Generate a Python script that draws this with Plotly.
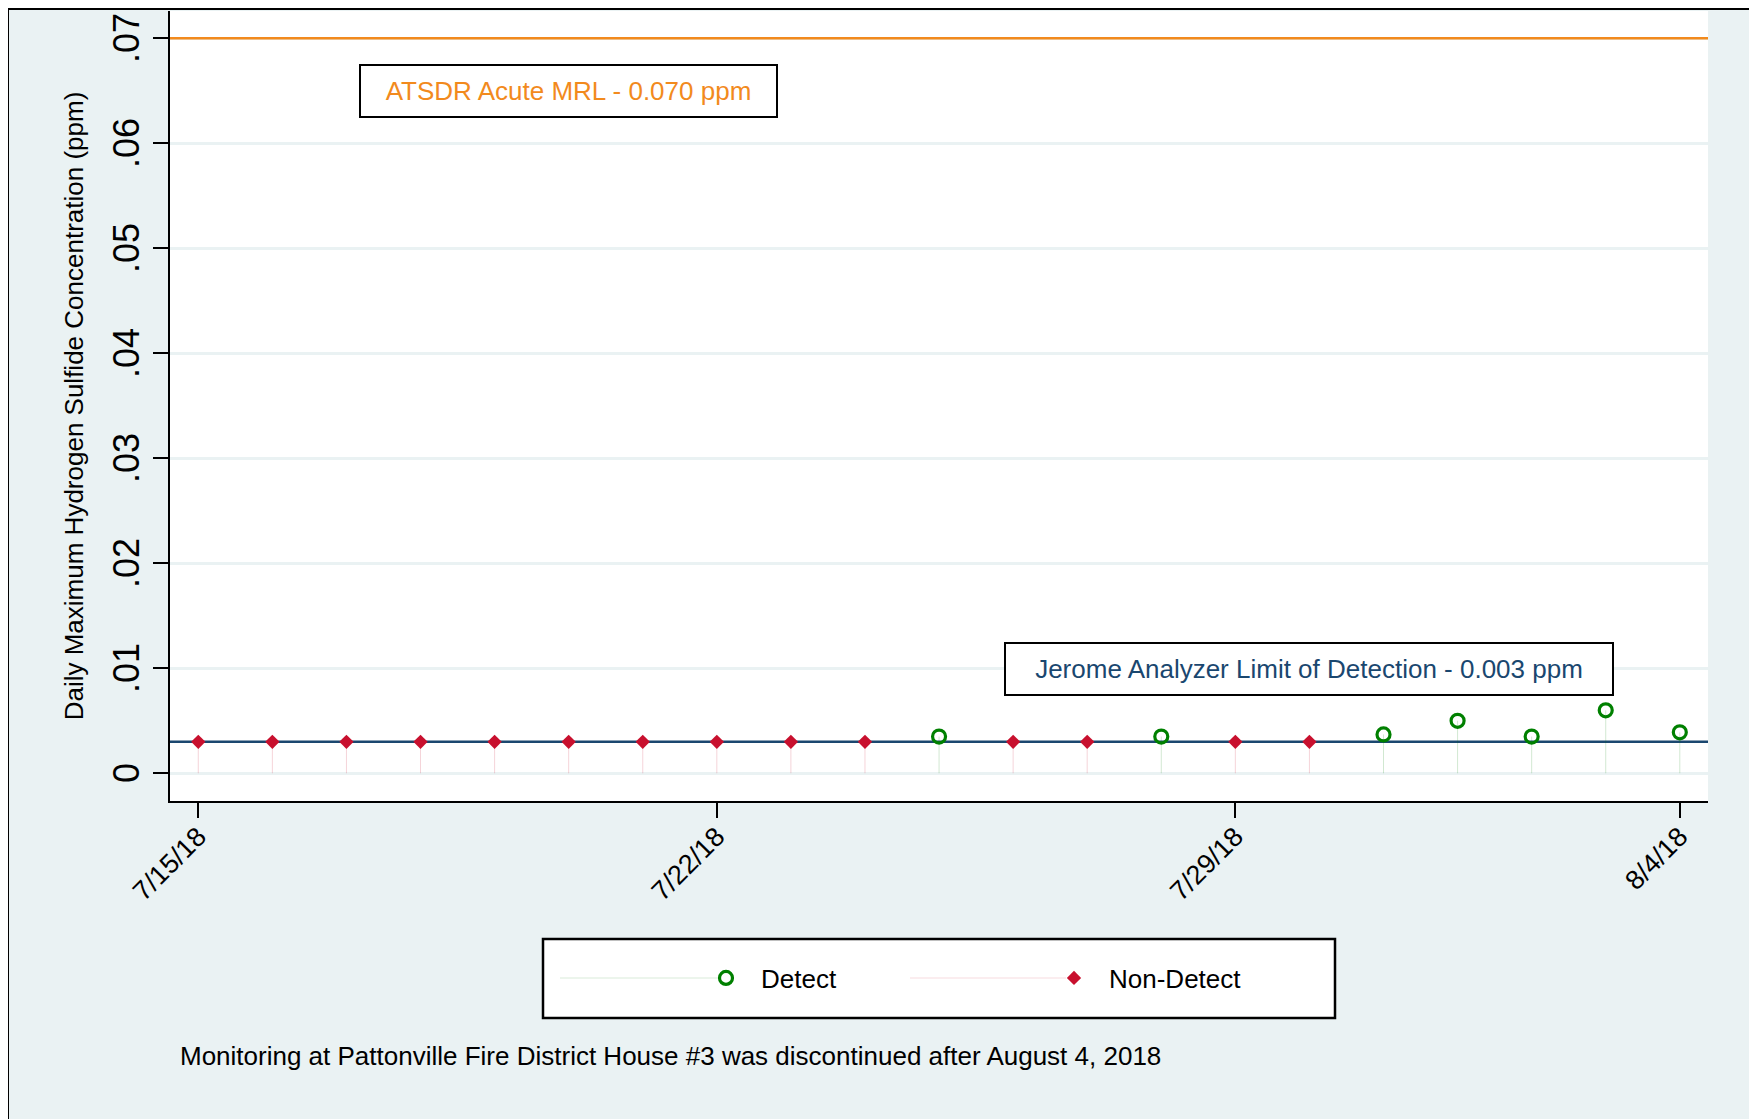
import plotly.graph_objects as go

# ---------------- data ----------------
dates = ['2018-07-15', '2018-07-16', '2018-07-17', '2018-07-18', '2018-07-19',
         '2018-07-20', '2018-07-21', '2018-07-22', '2018-07-23', '2018-07-24',
         '2018-07-25', '2018-07-26', '2018-07-27', '2018-07-28', '2018-07-29',
         '2018-07-30', '2018-07-31', '2018-08-01', '2018-08-02', '2018-08-03',
         '2018-08-04']
h2s_ppm = [0.003, 0.003, 0.003, 0.003, 0.003,
           0.003, 0.003, 0.003, 0.003, 0.003,
           0.0035, 0.003, 0.003, 0.0035, 0.003,
           0.003, 0.0037, 0.005, 0.0035, 0.006,
           0.0039]
status = ['Non-Detect'] * 10 + ['Detect', 'Non-Detect', 'Non-Detect', 'Detect',
                                'Non-Detect', 'Non-Detect', 'Detect', 'Detect',
                                'Detect', 'Detect', 'Detect']

mrl_value = 0.070
lod_value = 0.003
mrl_label = 'ATSDR Acute MRL - 0.070 ppm'
lod_label = 'Jerome Analyzer Limit of Detection - 0.003 ppm'
note_text = 'Monitoring at Pattonville Fire District House #3 was discontinued after August 4, 2018'
y_title = 'Daily Maximum Hydrogen Sulfide Concentration (ppm)'
x_tickvals = ['2018-07-15', '2018-07-22', '2018-07-29', '2018-08-04']
x_ticktext = ['7/15/18', '7/22/18', '7/29/18', '8/4/18']
y_tickvals = [0, 0.01, 0.02, 0.03, 0.04, 0.05, 0.06, 0.07]
y_ticktext = ['0', '.01', '.02', '.03', '.04', '.05', '.06', '.07']
x_range = ['2018-07-14 14:50', '2018-08-04 09:08']

# ---------------- styles ----------------
FONT = 'Liberation Sans, Arial, sans-serif'
GREEN = '#008000'
RED = '#C8102E'
ORANGE = '#F28A1D'
NAVY = '#1A476F'
REGION = '#EAF2F3'

OFF = 8  # page body margin
W, H = 1757 - OFF, 1119 - OFF
L, T = 170 - OFF, 11 - OFF
PR, PB = 1708 - OFF, 801 - OFF
R, B = W - PR, H - PB
PW, PH = PR - L, PB - T


def px_x(p):
    return (p - OFF - L) / PW


def px_y(p):
    return (PB - (p - OFF)) / PH


fig = go.Figure()

# reference lines
for val, col, wid in [(mrl_value, ORANGE, 2.5), (lod_value, NAVY, 2.5)]:
    fig.add_trace(go.Scatter(x=x_range, y=[val, val], mode='lines',
                             line=dict(color=col, width=wid), showlegend=False,
                             hoverinfo='skip'))

for name, color, sym, size, lw, stem in [
        ('Detect', GREEN, 'circle-open', 13, 3.2, 'rgba(0,128,0,0.18)'),
        ('Non-Detect', RED, 'diamond', 11, 0, 'rgba(200,16,46,0.18)')]:
    xs = [d for d, s in zip(dates, status) if s == name]
    ys = [v for v, s in zip(h2s_ppm, status) if s == name]
    fig.add_trace(go.Scatter(
        x=xs, y=ys, mode='markers', name=name,
        marker=dict(symbol=sym, size=size, color=color,
                    line=dict(color=color, width=lw)),
        error_y=dict(type='data', symmetric=False, array=[0] * len(ys),
                     arrayminus=ys, color=stem, thickness=1, width=0),
    ))

shapes = [
    # graph region (light) with outer frame (bottom edge runs off the page)
    dict(type='rect', xref='paper', yref='paper', layer='below',
         x0=px_x(8), x1=px_x(1752), y0=px_y(1135), y1=px_y(9),
         fillcolor=REGION, line=dict(color='black', width=2)),
    # plot region (white)
    dict(type='rect', xref='paper', yref='paper', layer='below',
         x0=0, x1=1, y0=0, y1=1, fillcolor='white', line=dict(width=0)),
    # legend frame
    dict(type='rect', xref='paper', yref='paper', layer='above',
         x0=px_x(543), x1=px_x(1335), y0=px_y(1018), y1=px_y(939),
         fillcolor='white', line=dict(color='black', width=2.5)),
    # faint legend key lines
    dict(type='line', xref='paper', yref='paper', layer='above',
         x0=px_x(560), x1=px_x(718), y0=px_y(978), y1=px_y(978),
         line=dict(color='rgba(0,128,0,0.15)', width=1)),
    dict(type='line', xref='paper', yref='paper', layer='above',
         x0=px_x(910), x1=px_x(1066), y0=px_y(978), y1=px_y(978),
         line=dict(color='rgba(200,16,46,0.15)', width=1)),
]

annotations = [
    dict(x='2018-07-20', y=0.065, xref='x', yref='y', text=mrl_label,
         showarrow=False, font=dict(family=FONT, size=26, color=ORANGE),
         bgcolor='white', bordercolor='black', borderwidth=2, borderpad=0,
         width=415, height=50),
    dict(x='2018-07-30', y=0.00995, xref='x', yref='y', text=lod_label,
         showarrow=False, font=dict(family=FONT, size=26, color=NAVY),
         bgcolor='white', bordercolor='black', borderwidth=2, borderpad=0,
         width=606, height=50),
    dict(x=px_x(178), y=px_y(1056), xref='paper', yref='paper', text=note_text,
         showarrow=False, xanchor='left', yanchor='middle',
         font=dict(family=FONT, size=26, color='black')),
]

fig.update_layout(
    width=W, height=H,
    margin=dict(l=L, r=R, t=T, b=B, pad=0, autoexpand=False),
    paper_bgcolor='white', plot_bgcolor='rgba(0,0,0,0)',
    font=dict(family=FONT, size=26, color='black'),
    shapes=shapes, annotations=annotations,
    legend=dict(orientation='h', x=px_x(691), xanchor='left',
                y=px_y(978), yanchor='middle', bgcolor='rgba(0,0,0,0)',
                borderwidth=0, entrywidth=273, entrywidthmode='pixels',
                itemwidth=60,
                font=dict(family=FONT, size=26, color='black'),
                traceorder='normal'),
    xaxis=dict(type='date', range=x_range, automargin=False,
               tickvals=x_tickvals, ticktext=x_ticktext, tickangle=-45,
               tickfont=dict(family=FONT, size=27, color='black'),
               ticks='outside', ticklen=15, tickwidth=2, tickcolor='black',
               showline=True, linecolor='black', linewidth=2,
               showgrid=False, zeroline=False, ticklabelstandoff=-8,
               ticklabeloverflow='allow'),
    yaxis=dict(range=[-0.00264, 0.0726], tickvals=y_tickvals, ticktext=y_ticktext,
               automargin=False,
               tickangle=-90, tickfont=dict(family=FONT, size=36, color='black'),
               ticks='outside', ticklen=15, tickwidth=2, tickcolor='black',
               showline=True, linecolor='black', linewidth=2,
               showgrid=True, gridcolor=REGION, gridwidth=3, zeroline=False,
               ticklabelstandoff=0, ticklabelshift=5, ticklabeloverflow='allow',
               title=dict(text=y_title, standoff=14,
                          font=dict(family=FONT, size=26, color='black'))),
    hovermode=False,
)

fig.write_html('out.html')
